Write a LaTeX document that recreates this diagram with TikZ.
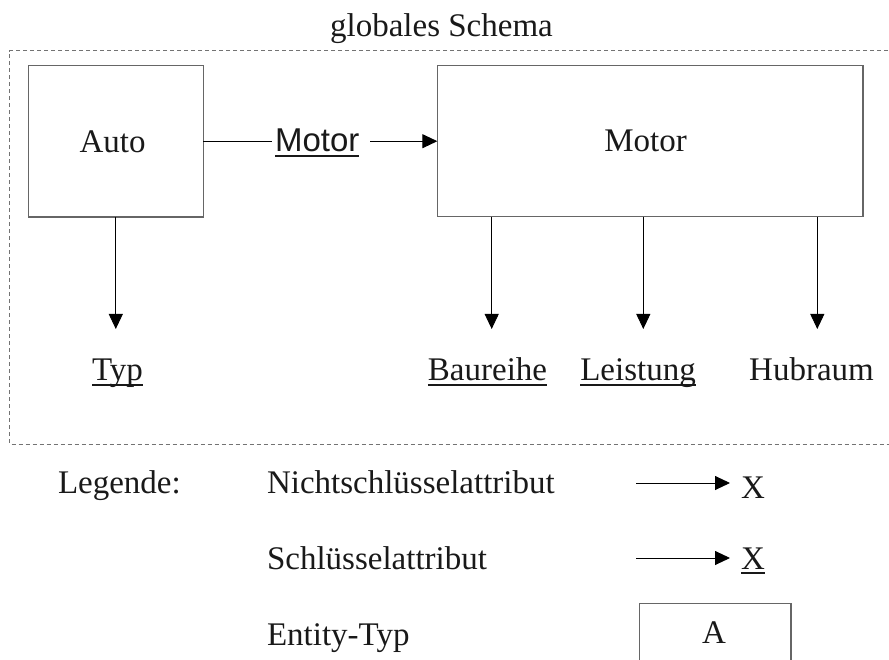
\documentclass[tikz,border=0pt]{standalone}
\usepackage{fontspec}
\setmainfont{Liberation Serif}
\newfontfamily\relfont{Liberation Sans}
\usetikzlibrary{arrows.meta}
% key attributes: underline at a fixed depth below the baseline
\newcommand\keyattr[1]{\setbox0\hbox{#1}\rlap{\rule[-5pt]{\wd0}{1.8pt}}\box0}

\begin{document}
\begin{tikzpicture}[x=1pt,y=-1pt,
  every node/.style={inner sep=0pt, outer sep=0pt, text=black!90,
    font=\fontsize{33}{40}\selectfont},
  entity/.style={draw=black!60, line width=1.2pt},
  conn/.style={draw=black, line width=0.9pt},
  arrowline/.style={conn, -{Triangle[length=15pt,width=14pt]}},
  frameline/.style={draw=black!55, line width=1pt, dash pattern=on 4pt off 3pt}]

\useasboundingbox (0,0) rectangle (889,660);

% title and frame of the global schema
\node[anchor=base] (title) at (441.5,37) {globales Schema};
\draw[frameline] (895,50.7) -- (9.5,50.7) -- (9.5,444) -- (895,444);

% entity types
\node[entity, minimum width=175pt, minimum height=151.3pt] (auto) at (115.8,141.35) {};
\node (autolbl) at (112.5,141.5) {Auto};
\node[entity, minimum width=425.7pt, minimum height=151pt] (motor) at (650.2,141.2) {};
\node (motorlbl) at (645.5,141.3) {Motor};

% relationship attribute Auto -> Motor
\node[anchor=base] (rel) at (317.2,151.7) {\relfont\keyattr{Motor}};
\draw[conn, shorten >=3pt] (auto.east) -- (auto.east -| rel.west);
\draw[arrowline, shorten <=10.7pt] (rel.east |- motor.west) -- (motor.west);

% attributes
\node[anchor=base] (typ) at (117.5,380.7) {\keyattr{Typ}};
\node[anchor=base] (baureihe) at (487.5,380.5) {\keyattr{Baureihe}};
\node[anchor=base] (leistung) at (638,380.5) {\keyattr{Leistung}};
\node[anchor=base] (hubraum) at (811.5,380.5) {Hubraum};

\coordinate (tipT) at (115.8,329);
\coordinate (tipB) at (491.7,329);
\coordinate (tipL) at (643.3,329);
\coordinate (tipH) at (817.3,329);
\draw[arrowline] (auto.south) -- (tipT);
\draw[arrowline] (motor.south -| tipB) -- (tipB);
\draw[arrowline] (motor.south -| tipL) -- (tipL);
\draw[arrowline] (motor.south -| tipH) -- (tipH);

% legend
\node[anchor=base west] (legende) at (58,493) {Legende:};
\node[anchor=base west] (nonkey) at (267,493) {Nichtschlüsselattribut};
\node[anchor=base west] (key) at (267,569) {Schlüsselattribut};
\node[anchor=base west] (enttyp) at (267,645) {Entity-Typ};

\node[anchor=base] (xplain) at (753,498) {X};
\node[anchor=base] (xkey) at (753,569) {\keyattr{X}};
\coordinate (l1) at (636,483);
\coordinate (l2) at (636,558);
\draw[arrowline] (l1) -- (l1 -| 730,0);
\draw[arrowline] (l2) -- (l2 -| 730,0);

\node[entity, minimum width=151.5pt, minimum height=90pt, anchor=north] (abox) at (715.3,603.5) {};
\node (albl) at (714,633) {A};
\end{tikzpicture}
\end{document}
